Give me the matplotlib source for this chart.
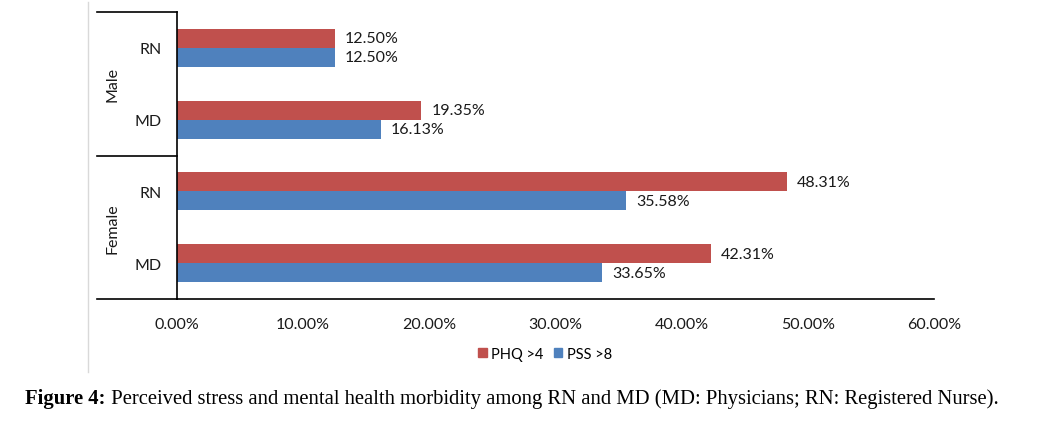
import matplotlib.pyplot as plt
from matplotlib.lines import Line2D
from matplotlib.patches import Patch

# data, top to bottom as in the chart
groups = ["Male", "Female"]
roles = ["RN", "MD", "RN", "MD"]
phq = [12.50, 19.35, 48.31, 42.31]
pss = [12.50, 16.13, 35.58, 33.65]
xticks = [0, 10, 20, 30, 40, 50, 60]

RED = "#C0504D"
BLUE = "#4F81BD"
FONT = "Lato"
FS = 11.5

W, H = 1047, 431
fig = plt.figure(figsize=(W / 100, H / 100), dpi=100)
ax = fig.add_axes([177 / W, 1 - 300 / H, (934 - 177) / W, (300 - 13) / H])

pos = list(range(len(roles)))
bh = 0.265
off = 0.133
ax.barh([p - off for p in pos], phq, height=bh, color=RED, label="PHQ >4")
ax.barh([p + off for p in pos], pss, height=bh, color=BLUE, label="PSS >8")

for p, v in zip(pos, phq):
    ax.annotate(f"{v:.2f}%", (v, p - off), xytext=(7.5, 0), textcoords="offset points",
                va="center", ha="left", fontsize=FS, family=FONT, color="#1a1a1a")
for p, v in zip(pos, pss):
    ax.annotate(f"{v:.2f}%", (v, p + off), xytext=(7.5, 0), textcoords="offset points",
                va="center", ha="left", fontsize=FS, family=FONT, color="#1a1a1a")

ax.set_xlim(0, 60)
ax.set_ylim(3.5, -0.5)
ax.set_xticks(xticks)
ax.set_xticklabels([f"{t:.2f}%" for t in xticks], fontsize=FS, family=FONT, color="#1a1a1a")
ax.set_yticks(pos)
ax.set_yticklabels(roles, fontsize=FS, family=FONT, color="#1a1a1a")
ax.tick_params(axis="both", length=0)
ax.tick_params(axis="x", pad=13)
ax.tick_params(axis="y", pad=11)

for s in ["top", "right"]:
    ax.spines[s].set_visible(False)
for s in ["left", "bottom"]:
    ax.spines[s].set_color("black")
    ax.spines[s].set_linewidth(1.2)

# group bracket lines to the left of the axis
x0 = (97 - 177) / (934 - 177)
for yy in [-0.5, 1.5, 3.5]:
    ax.plot([x0, 0], [yy, yy], transform=ax.get_yaxis_transform(), color="black",
            lw=1.2, clip_on=False)

ax.text(x0 + 0.02, 0.5, groups[0], transform=ax.get_yaxis_transform(), rotation=90,
        va="center", ha="center", fontsize=FS, family=FONT, color="#1a1a1a")
ax.text(x0 + 0.02, 2.5, groups[1], transform=ax.get_yaxis_transform(), rotation=90,
        va="center", ha="center", fontsize=FS, family=FONT, color="#1a1a1a")

# faint chart frame edge
fig.add_artist(Line2D([88 / W, 88 / W], [1 - 373 / H, 1 - 3 / H], color="#d9d9d9", lw=1))

handles = [Patch(color=RED), Patch(color=BLUE)]
fig.legend(handles, ["PHQ >4", "PSS >8"], loc="center", bbox_to_anchor=(545 / W, 1 - 355 / H),
           ncol=2, frameon=False, handlelength=0.6, handleheight=0.6, handletextpad=0.3,
           columnspacing=0.7, prop={"family": FONT, "size": 10.5})

cap_fs = 14.9
lab = fig.text(25 / W, 1 - 404 / H, "Figure 4:", fontsize=cap_fs, family="Liberation Serif",
               fontweight="bold", va="baseline", ha="left")
ax.annotate(" Perceived stress and mental health morbidity among RN and MD (MD: Physicians; RN: Registered Nurse).",
            xy=(1, 0), xycoords=lab, va="bottom", ha="left", fontsize=cap_fs,
            family="Liberation Serif", annotation_clip=False)

fig.savefig("out.png", dpi=100)
